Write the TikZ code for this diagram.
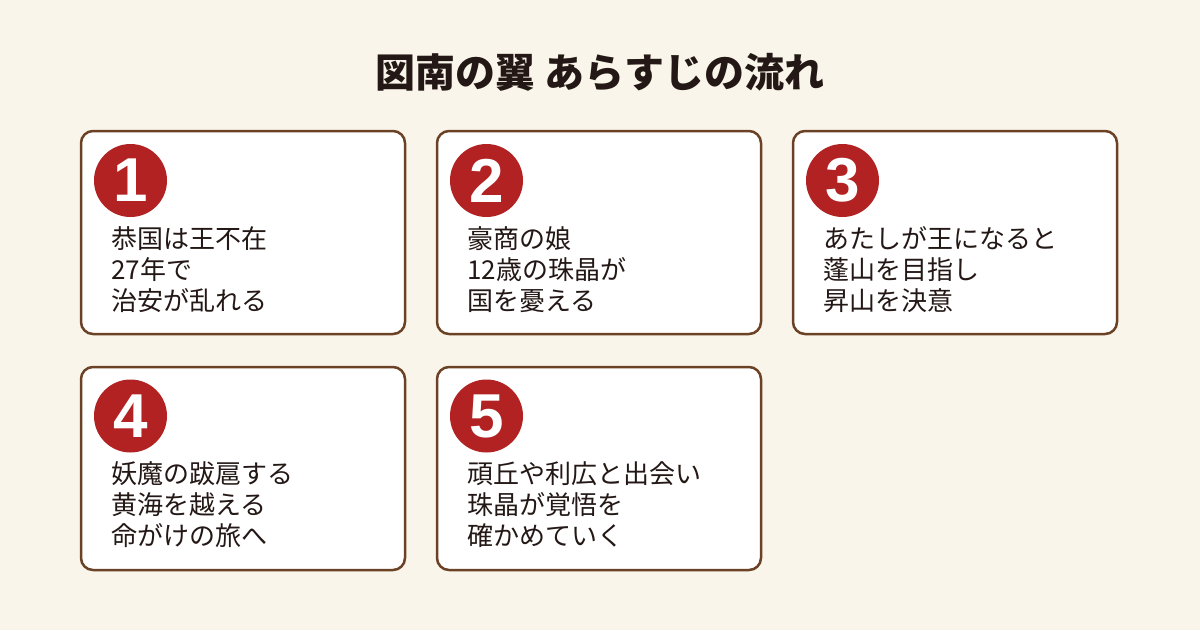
\documentclass[tikz,border=0pt]{standalone}
\usepackage{fontspec}
\setmainfont{Noto Sans CJK JP}
\newfontfamily\numfont{Liberation Sans}
\definecolor{bgc}{HTML}{FAF5EA}
\definecolor{brd}{HTML}{6B4226}
\definecolor{redc}{HTML}{B22222}
\definecolor{txt}{HTML}{231815}
\tikzset{
  card/.style={draw=brd, line width=2.5pt, fill=white, rounded corners=12pt},
  numdot/.style={circle, fill=redc, minimum size=73pt, inner sep=0pt, text=white, font=\numfont\bfseries\fontsize{62}{62}\selectfont},
  body/.style={anchor=base west, align=left, inner sep=0pt, text=txt, font=\fontsize{26}{31}\selectfont},
  ttl/.style={anchor=center, inner sep=0pt, text=txt, font=\bfseries\fontsize{40}{40}\selectfont}
}
\begin{document}
\begin{tikzpicture}[x=1pt,y=-1pt]
\fill[bgc] (0,0) rectangle (1200,630);
\useasboundingbox (0,0) rectangle (1200,630);
\node[ttl] (title) at (600,72) {図南の翼 あらすじの流れ};
% row 1
\draw[card] (81,131) rectangle (405,334);
\draw[card] (437,131) rectangle (761,334);
\draw[card] (793,131) rectangle (1117,334);
% row 2
\draw[card] (81,367) rectangle (405,570);
\draw[card] (437,367) rectangle (761,570);
% numbers
\node[numdot] (n1) at (130.5,180.5) {1};
\node[numdot] (n2) at (486.5,180.5) {2};
\node[numdot] (n3) at (842.5,180.5) {3};
\node[numdot] (n4) at (130.5,416) {4};
\node[numdot] (n5) at (486.5,416) {5};
% texts (base anchor = last line baseline)
\node[body] (t1) at (111,310.5) {恭国は王不在\\27年で\\治安が乱れる};
\node[body] (t2) at (467,310.5) {豪商の娘\\12歳の珠晶が\\国を憂える};
\node[body] (t3) at (823,310.5) {あたしが王になると\\蓬山を目指し\\昇山を決意};
\node[body] (t4) at (111,545) {妖魔の跋扈する\\黄海を越える\\命がけの旅へ};
\node[body] (t5) at (467,545) {頑丘や利広と出会い\\珠晶が覚悟を\\確かめていく};
\end{tikzpicture}
\end{document}
